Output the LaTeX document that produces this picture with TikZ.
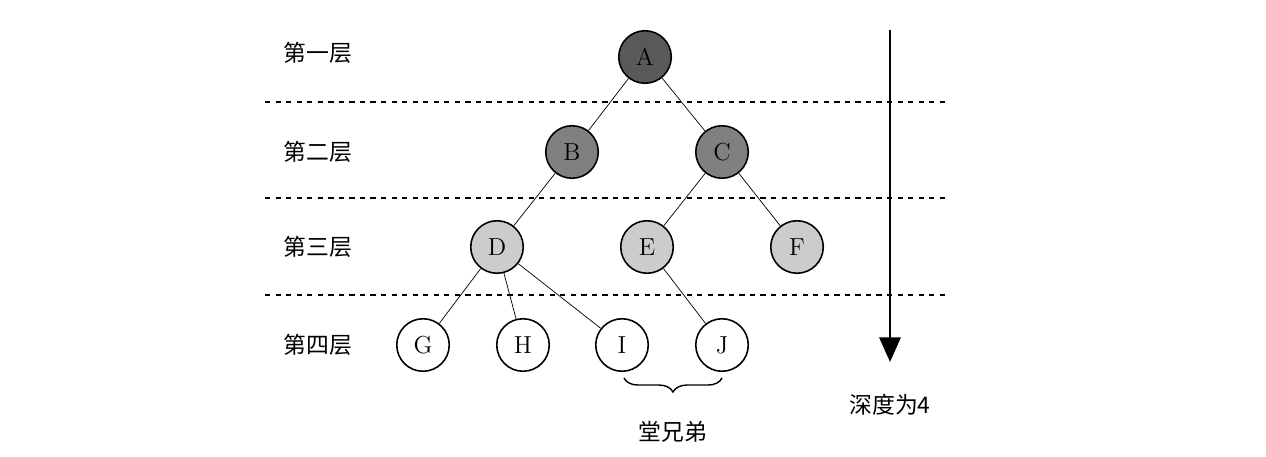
\documentclass[tikz,border=0pt]{standalone}
\usepackage{fontspec}
\newfontfamily\cjk{Noto Sans CJK SC}
\usetikzlibrary{decorations.pathreplacing,arrows.meta}
\begin{document}
\begin{tikzpicture}[x=0.02cm,y=-0.02cm,
  tn/.style={circle,draw,line width=0.9pt,minimum size=1.05cm,inner sep=0pt,font=\fontsize{14}{16}\selectfont},
  lvl/.style={font=\cjk\fontsize{13}{15}\selectfont},
  sep/.style={dashed,line width=0.8pt}]
\useasboundingbox (0,0) rectangle (1266,456);
\node[tn,fill=black!65] (A) at (645,57) {A};
\node[tn,fill=black!50] (B) at (572,152) {B};
\node[tn,fill=black!50] (C) at (722,152) {C};
\node[tn,fill=black!20] (D) at (497,247) {D};
\node[tn,fill=black!20] (E) at (647,247) {E};
\node[tn,fill=black!20] (F) at (797,247) {F};
\node[tn,fill=white] (G) at (423,345) {G};
\node[tn,fill=white] (H) at (523,345) {H};
\node[tn,fill=white] (I) at (622,345) {I};
\node[tn,fill=white] (J) at (722,345) {J};
\draw (A)--(B) (A)--(C) (B)--(D) (C)--(E) (C)--(F) (D)--(G) (D)--(H) (D)--(I) (E)--(J);
\coordinate (l1a) at (265,102); \coordinate (l1b) at (945,102);
\coordinate (l2a) at (265,198); \coordinate (l2b) at (945,198);
\coordinate (l3a) at (265,295); \coordinate (l3b) at (945,295);
\draw[sep] (l1a)--(l1b); \draw[sep] (l2a)--(l2b); \draw[sep] (l3a)--(l3b);
\node[lvl] (t1) at (318,53) {第一层};
\node[lvl] (t2) at (318,152) {第二层};
\node[lvl] (t3) at (318,247) {第三层};
\node[lvl] (t4) at (318,345) {第四层};
\coordinate (ar1) at (890,30); \coordinate (ar2) at (890,362);
\draw[line width=1.6pt,-{Triangle[length=14pt,width=12pt]}] (ar1)--(ar2);
\node[lvl] (dep) at (890,405) {深度为4};
\coordinate (b1) at (624,378); \coordinate (b2) at (722,378);
\draw[decorate,decoration={brace,mirror,amplitude=8pt},line width=0.8pt] (b1)--(b2);
\node[lvl] (cous) at (673,432) {堂兄弟};
\end{tikzpicture}
\end{document}
